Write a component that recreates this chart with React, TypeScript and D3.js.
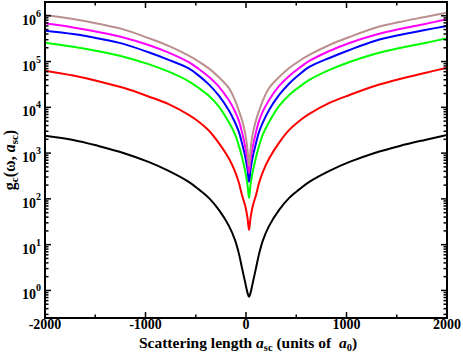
import React from "react";
import * as d3 from "d3";

// Scattering length a_sc (units of a0)
const aSc = [-2000, -1720, -1470, -1220, -970, -770, -570, -470, -370, -270, -170, -110, -70, -40, -5, 15, 30, 45, 65, 100, 130, 170, 230, 330, 430, 530, 630, 830, 1030, 1280, 1530, 1780, 2000];

const brownVals = [1041000, 851700, 671800, 503900, 325200, 219900, 134600, 100100, 70830, 45300, 26200, 14380, 8293, 5283, 2495, 1174, 525, 1174, 2495, 5303, 8340, 14500, 26500, 46080, 72440, 103000, 139200, 230200, 344200, 541200, 731800, 940800, 1168000];
const magentaVals = [685500, 556500, 443600, 336300, 230500, 157300, 97070, 68930, 46570, 28460, 14220, 8222, 4994, 2881, 1294, 709, 369, 710, 1298, 2901, 5045, 8340, 14500, 29310, 48450, 72440, 103000, 170300, 254600, 380600, 514600, 661900, 838100];
const blueVals = [472400, 399300, 319700, 243400, 159400, 109100, 71060, 49280, 31710, 18000, 8568, 4721, 2868, 1656, 782, 429, 234.9, 429.4, 785, 1669, 2901, 4797, 8770, 18640, 33230, 52250, 76170, 119800, 179100, 281500, 380600, 489400, 598400];
const greenVals = [258500, 210400, 168100, 127800, 87810, 60050, 37120, 26400, 17840, 10380, 4695, 2585, 1419, 819, 368, 202, 105.1, 202, 369, 825, 1435, 2624, 4797, 10720, 18640, 27870, 39630, 65530, 97950, 146500, 198000, 254600, 322500];
const redVals = [63240, 49460, 37260, 26700, 17300, 11750, 6859, 4860, 3114, 1650, 760, 400, 221.7, 121.6, 66.6, 38.4, 21.03, 38.45, 66.8, 122.2, 223.4, 400, 760, 1690, 3208, 5045, 7172, 12470, 18640, 29310, 41670, 56330, 73540];
const blackVals = [2400, 1941, 1435, 1009, 642.1, 408.4, 234.9, 161.1, 105.1, 57.46, 25.72, 12.72, 6.292, 3.112, 1.392, 0.886, 0.724, 0.886, 1.392, 3.112, 6.292, 12.72, 25.72, 57.46, 105.1, 161.1, 234.9, 408.4, 642.1, 1009, 1435, 1941, 2495];

const seriesList = [blackVals, redVals, greenVals, blueVals, magentaVals, brownVals];
const seriesColors = ["#000000", "#ff0000", "#00ff00", "#0000ff", "#ff00ff", "#bc8f8f"];

const xMajorTicks = [-2000, -1000, 0, 1000, 2000];
const xMinorTicks = [-1500, -500, 500, 1500];
const yDecades = [0, 1, 2, 3, 4, 5, 6];

const W = 463;
const H = 354;
const M = { left: 45, right: 447, top: 2, bottom: 318 };
const FONT = "'Liberation Serif', 'Times New Roman', serif";

export default function App() {
  const x = d3.scaleLinear().domain([-2000, 2000]).range([M.left, M.right]);
  const y = d3.scaleLog().domain([0.25, 2e6]).range([M.bottom, M.top]);

  const line = d3
    .line<number>()
    .x((_, i) => x(aSc[i]))
    .y((d) => y(d))
    .curve(d3.curveCatmullRom.alpha(0.5));

  const minorY: number[] = [];
  for (let d = -1; d <= 6; d++) {
    for (let k = 2; k <= 9; k++) {
      const v = k * Math.pow(10, d);
      if (v > 0.25 && v < 2e6) minorY.push(v);
    }
  }

  const majLen = 6;
  const minLen = 3.5;

  return (
    <svg
      width={W}
      height={H}
      style={{ position: "absolute", left: 0, top: 0, background: "#fff" }}
      fontFamily={FONT}
    >
      <defs>
        <clipPath id="plotclip">
          <rect x={M.left} y={M.top} width={M.right - M.left} height={M.bottom - M.top} />
        </clipPath>
      </defs>
      <rect x={0} y={0} width={W} height={H} fill="#fff" />

      <g clipPath="url(#plotclip)">
        {seriesList.map((s, i) => (
          <path key={i} d={line(s) || ""} fill="none" stroke={seriesColors[i]} strokeWidth={2} />
        ))}
      </g>

      <g stroke="#000" strokeWidth={1.5}>
        {xMajorTicks.map((t) => (
          <g key={"xm" + t}>
            <line x1={x(t)} x2={x(t)} y1={M.bottom} y2={M.bottom - majLen} />
            <line x1={x(t)} x2={x(t)} y1={M.top} y2={M.top + majLen} />
          </g>
        ))}
        {xMinorTicks.map((t) => (
          <g key={"xn" + t}>
            <line x1={x(t)} x2={x(t)} y1={M.bottom} y2={M.bottom - minLen} />
            <line x1={x(t)} x2={x(t)} y1={M.top} y2={M.top + minLen} />
          </g>
        ))}
        {yDecades.map((d) => {
          const yy = y(Math.pow(10, d));
          return (
            <g key={"ym" + d}>
              <line x1={M.left} x2={M.left + majLen} y1={yy} y2={yy} />
              <line x1={M.right} x2={M.right - majLen} y1={yy} y2={yy} />
            </g>
          );
        })}
        {minorY.map((v, i) => {
          const yy = y(v);
          return (
            <g key={"yn" + i}>
              <line x1={M.left} x2={M.left + minLen} y1={yy} y2={yy} />
              <line x1={M.right} x2={M.right - minLen} y1={yy} y2={yy} />
            </g>
          );
        })}
      </g>

      <rect
        x={M.left}
        y={M.top}
        width={M.right - M.left}
        height={M.bottom - M.top}
        fill="none"
        stroke="#000"
        strokeWidth={2}
      />

      {xMajorTicks.map((t) => (
        <text key={"xl" + t} x={x(t)} y={329} textAnchor="middle" fontSize={14} fontWeight="bold">
          {t}
        </text>
      ))}

      {yDecades.map((d) => {
        const yy = y(Math.pow(10, d));
        return (
          <text key={"yl" + d} x={41} y={yy + 9} textAnchor="end" fontSize={14} fontWeight="bold">
            10
            <tspan dy={-8} fontSize={10}>
              {d}
            </tspan>
          </text>
        );
      })}

      <text
        x={x(0) + 2}
        y={347.5}
        textAnchor="middle"
        fontSize={15.5}
        fontWeight="bold"
        style={{ whiteSpace: "pre" }}
      >
        {"Scattering length "}
        <tspan fontStyle="italic">a</tspan>
        <tspan dy={3} fontSize={10.5}>sc</tspan>
        <tspan dy={-3}>{" (units of  "}</tspan>
        <tspan fontStyle="italic">a</tspan>
        <tspan dy={3} fontSize={10.5}>0</tspan>
        <tspan dy={-3}>)</tspan>
      </text>

      <text
        transform={`translate(15, ${(M.top + M.bottom) / 2}) rotate(-90)`}
        textAnchor="middle"
        fontSize={16}
        fontWeight="bold"
        style={{ whiteSpace: "pre" }}
      >
        g
        <tspan dy={3} fontSize={11}>c</tspan>
        <tspan dy={-3}>{"(ω, "}</tspan>
        <tspan fontStyle="italic">a</tspan>
        <tspan dy={3} fontSize={11}>sc</tspan>
        <tspan dy={-3}>)</tspan>
      </text>
    </svg>
  );
}
